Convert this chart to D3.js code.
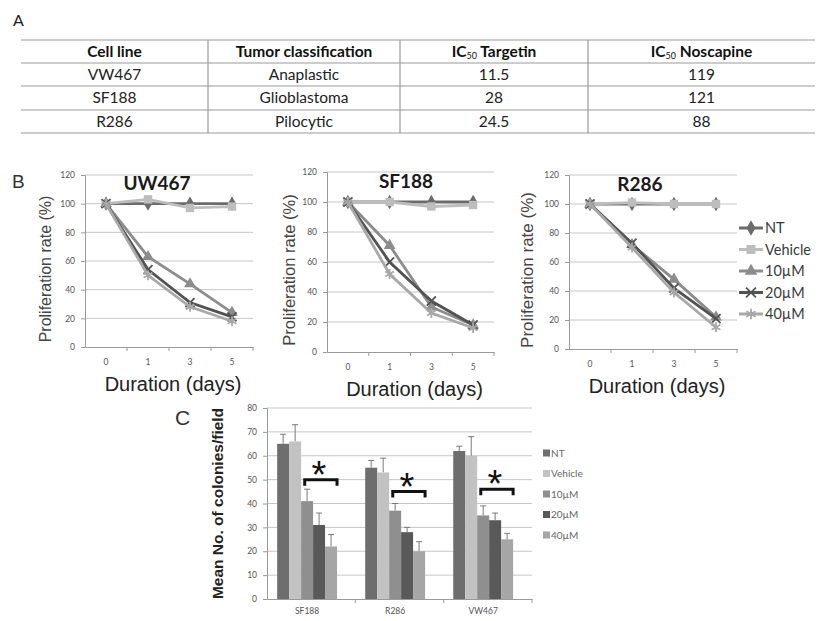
<!DOCTYPE html>
<html>
<head>
<meta charset="utf-8">
<script src="https://cdn.jsdelivr.net/npm/d3@7"></script>
<style>
  body { margin: 0; background: #fff; }
  svg { display: block; }
</style>
</head>
<body>
<div id="chart"></div>
<script>
// ---- data ----
const tableHeaders = ['Cell line', 'Tumor classification', 'IC50 Targetin', 'IC50 Noscapine']
const tableCellLines = ['VW467', 'SF188', 'R286']
const tableClasses = ['Anaplastic', 'Glioblastoma', 'Pilocytic']
const tableTargetin = ['11.5', '28', '24.5']
const tableNoscapine = ['119', '121', '88']

const days = ['0', '1', '3', '5']
const treatments = ['NT', 'Vehicle', '10µM', '20µM', '40µM']
const lineTicks = [0, 20, 40, 60, 80, 100, 120]

// proliferation rate (%), one row per treatment
const uw467Values = [
  [100, 100, 100, 100],
  [100, 103, 97, 98],
  [100, 63, 44, 24],
  [100, 54, 31, 21],
  [100, 50, 28, 18]
]
const sf188Values = [
  [100, 100, 100, 100],
  [100, 100, 97, 98],
  [100, 71, 30, 18],
  [100, 60, 34, 18],
  [100, 52, 26, 16]
]
const r286Values = [
  [100, 100, 100, 100],
  [100, 101, 100, 100],
  [100, 72, 48, 22],
  [100, 73, 42, 21],
  [100, 70, 39, 15]
]

// colonies
const colonyLines = ['SF188', 'R286', 'VW467']
const colonyTicks = [0, 10, 20, 30, 40, 50, 60, 70, 80]
const colonyMeans = [
  [65, 66, 41, 31, 22],
  [55, 53, 37, 28, 20],
  [62, 60, 35, 33, 25]
]
const colonyErrors = [
  [4, 7, 5, 5, 5],
  [3, 6, 3, 2, 4],
  [2, 8, 4, 3, 2.5]
]
const sigLevels = [50, 45, 46]

// ---- style ----
const lineColors = ['#6b6b6b', '#bdbdbd', '#8c8c8c', '#525252', '#a8a8a8']
const barColors = ['#6e6e6e', '#c2c2c2', '#8f8f8f', '#595959', '#a6a6a6']
const markerTypes = [d3.symbolDiamond, d3.symbolSquare, d3.symbolTriangle,
  d3.symbolTimes || d3.symbolCross, d3.symbolAsterisk || d3.symbolStar]
const markerSizes = [60, 70, 60, 55, 70]
const strokeMarkers = [false, false, false, true, true]

const width = 828
const height = 621
const calibri = 'Lato, "Open Sans", sans-serif'
const arial = '"Liberation Sans", Arial, sans-serif'

const svg = d3.select('#chart')
  .append('svg')
  .attr('width', width)
  .attr('height', height)

// ---- panel A : table ----
svg.append('text')
  .attr('x', 13).attr('y', 26)
  .attr('font-family', calibri).attr('font-size', 16)
  .attr('fill', '#222')
  .text('A')

const colEdges = [21, 208, 400, 588, 815]
const rowEdges = [40, 63, 86, 110, 133]
const table = svg.append('g')

rowEdges.forEach(y => {
  table.append('line')
    .attr('x1', colEdges[0]).attr('x2', colEdges[4])
    .attr('y1', y).attr('y2', y)
    .attr('stroke', '#999').attr('stroke-width', 1.2)
})
for (let i = 1; i < 4; i++) {
  table.append('line')
    .attr('x1', colEdges[i]).attr('x2', colEdges[i])
    .attr('y1', rowEdges[0]).attr('y2', rowEdges[4])
    .attr('stroke', '#999').attr('stroke-width', 1.2)
}

tableHeaders.forEach((h, i) => {
  const cx = (colEdges[i] + colEdges[i + 1]) / 2
  const t = table.append('text')
    .attr('x', cx).attr('y', 57)
    .attr('text-anchor', 'middle')
    .attr('font-family', calibri).attr('font-size', 15.5)
    .attr('font-weight', 'bold').attr('fill', '#111')
  if (h.startsWith('IC50')) {
    t.append('tspan').text('IC')
    t.append('tspan').text('50').attr('font-size', 9).attr('font-weight', 'normal').attr('dy', 2)
    t.append('tspan').text(' ' + h.slice(5)).attr('dy', -2)
  } else {
    t.text(h)
  }
})

const rows = tableCellLines.map((c, i) => [c, tableClasses[i], tableTargetin[i], tableNoscapine[i]])
rows.forEach((r, ri) => {
  r.forEach((v, ci) => {
    table.append('text')
      .attr('x', (colEdges[ci] + colEdges[ci + 1]) / 2)
      .attr('y', rowEdges[ri + 1] + 17)
      .attr('text-anchor', 'middle')
      .attr('font-family', calibri).attr('font-size', 15.5)
      .attr('fill', '#222')
      .text(v)
  })
})

// ---- panel B : line charts ----
svg.append('text')
  .attr('x', 12).attr('y', 188)
  .attr('font-family', arial).attr('font-size', 19)
  .attr('fill', '#333')
  .text('B')

function drawLinePanel(cfg) {
  const g = svg.append('g')
  const x = d3.scaleBand().domain(days).range([cfg.left, cfg.right])
  const y = d3.scaleLinear().domain([0, 120]).range([cfg.bottom, cfg.top])

  // gridlines
  g.append('g').selectAll('line')
    .data(lineTicks.slice(1))
    .join('line')
    .attr('x1', cfg.left).attr('x2', cfg.right)
    .attr('y1', d => y(d)).attr('y2', d => y(d))
    .attr('stroke', '#c6c6c6').attr('stroke-width', 1)

  const yAxis = g.append('g')
    .attr('transform', `translate(${cfg.left},0)`)
    .call(d3.axisLeft(y).tickValues(lineTicks).tickSize(4).tickPadding(6))
  const xAxis = g.append('g')
    .attr('transform', `translate(0,${cfg.bottom})`)
    .call(d3.axisBottom(x).tickSize(0).tickPadding(12))
  ;[yAxis, xAxis].forEach(a => {
    a.select('.domain').attr('stroke', '#9a9a9a')
    a.selectAll('.tick line').attr('stroke', '#9a9a9a')
    a.selectAll('text').attr('font-family', calibri).attr('font-size', 8.5).attr('fill', '#555')
  })
  // x ticks between categories
  g.append('g').selectAll('line')
    .data(days.slice(1).concat(['end']))
    .join('line')
    .attr('x1', (d, i) => i < 3 ? x(d) : cfg.right)
    .attr('x2', (d, i) => i < 3 ? x(d) : cfg.right)
    .attr('y1', cfg.bottom).attr('y2', cfg.bottom + 4)
    .attr('stroke', '#9a9a9a')

  const line = d3.line()
    .x((d, i) => x(days[i]) + x.bandwidth() / 2)
    .y(d => y(d))

  cfg.values.forEach((vals, si) => {
    g.append('path')
      .datum(vals)
      .attr('d', line)
      .attr('fill', 'none')
      .attr('stroke', lineColors[si])
      .attr('stroke-width', 2.8)
    g.append('g').selectAll('path')
      .data(vals)
      .join('path')
      .attr('transform', (d, i) => `translate(${x(days[i]) + x.bandwidth() / 2},${y(d)})`)
      .attr('d', d3.symbol().type(markerTypes[si]).size(markerSizes[si]))
      .attr('fill', strokeMarkers[si] ? 'none' : lineColors[si])
      .attr('stroke', lineColors[si])
      .attr('stroke-width', strokeMarkers[si] ? 1.8 : 0)
  })

  g.append('text')
    .attr('x', cfg.titleX).attr('y', cfg.titleY)
    .attr('text-anchor', 'middle')
    .attr('font-family', calibri).attr('font-size', 19)
    .attr('font-weight', 'bold').attr('fill', '#1a1a1a')
    .text(cfg.title)

  g.append('text')
    .attr('transform', `translate(${cfg.yLabelX},${(cfg.top + cfg.bottom) / 2 + 8}) rotate(-90)`)
    .attr('text-anchor', 'middle')
    .attr('font-family', arial).attr('font-size', cfg.yLabelSize)
    .attr('fill', '#444')
    .text('Proliferation rate (%)')

  g.append('text')
    .attr('x', (cfg.left + cfg.right) / 2 + 4).attr('y', cfg.bottom + 44)
    .attr('text-anchor', 'middle')
    .attr('font-family', arial).attr('font-size', 20)
    .attr('fill', '#222')
    .text('Duration (days)')
}

drawLinePanel({ left: 85, right: 253, top: 175, bottom: 347, values: uw467Values,
  title: 'UW467', titleX: 157, titleY: 190, yLabelX: 51, yLabelSize: 16 })
drawLinePanel({ left: 327, right: 494, top: 172, bottom: 352, values: sf188Values,
  title: 'SF188', titleX: 406, titleY: 188, yLabelX: 295, yLabelSize: 16.5 })
drawLinePanel({ left: 569, right: 737, top: 175, bottom: 349, values: r286Values,
  title: 'R286', titleX: 640, titleY: 191, yLabelX: 533, yLabelSize: 17 })

// line legend
const lineLegend = svg.append('g')
treatments.forEach((t, i) => {
  const ly = 228 + i * 21.5
  lineLegend.append('line')
    .attr('x1', 739).attr('x2', 763)
    .attr('y1', ly).attr('y2', ly)
    .attr('stroke', lineColors[i]).attr('stroke-width', 3)
  lineLegend.append('path')
    .attr('transform', `translate(751,${ly})`)
    .attr('d', d3.symbol().type(markerTypes[i]).size(markerSizes[i] + 10))
    .attr('fill', strokeMarkers[i] ? 'none' : lineColors[i])
    .attr('stroke', lineColors[i])
    .attr('stroke-width', strokeMarkers[i] ? 1.8 : 0)
  lineLegend.append('text')
    .attr('x', 765).attr('y', ly + 5)
    .attr('font-family', calibri).attr('font-size', 14.5)
    .attr('fill', '#3a3a3a')
    .text(t)
})

// ---- panel C : bar chart ----
svg.append('text')
  .attr('x', 175).attr('y', 425)
  .attr('font-family', arial).attr('font-size', 21)
  .attr('fill', '#333')
  .text('C')

const cLeft = 267, cRight = 532, cTop = 408, cBottom = 599
const xc = d3.scaleBand().domain(colonyLines).range([cLeft, cRight])
  .paddingInner(0.32).paddingOuter(0.165).align(0.35)
const xs = d3.scaleBand().domain(treatments).range([0, xc.bandwidth()])
const yc = d3.scaleLinear().domain([0, 80]).range([cBottom, cTop])

const cg = svg.append('g')
cg.append('g').selectAll('line')
  .data(colonyTicks.slice(1))
  .join('line')
  .attr('x1', cLeft).attr('x2', cRight)
  .attr('y1', d => yc(d)).attr('y2', d => yc(d))
  .attr('stroke', '#c6c6c6')

const ycAxis = cg.append('g')
  .attr('transform', `translate(${cLeft},0)`)
  .call(d3.axisLeft(yc).tickValues(colonyTicks).tickSize(4).tickPadding(6))
const xcAxis = cg.append('g')
  .attr('transform', `translate(0,${cBottom})`)
  .call(d3.axisBottom(xc).tickSize(0).tickPadding(9))
;[ycAxis, xcAxis].forEach(a => {
  a.select('.domain').attr('stroke', '#9a9a9a')
  a.selectAll('.tick line').attr('stroke', '#9a9a9a')
  a.selectAll('text').attr('font-family', calibri).attr('font-size', 8.5).attr('fill', '#555')
})
// x tick marks at group boundaries
cg.append('g').selectAll('line')
  .data([1, 2, 3])
  .join('line')
  .attr('x1', d => cLeft + (cRight - cLeft) * d / 3)
  .attr('x2', d => cLeft + (cRight - cLeft) * d / 3)
  .attr('y1', cBottom).attr('y2', cBottom + 4)
  .attr('stroke', '#9a9a9a')

colonyLines.forEach((cl, gi) => {
  const grp = cg.append('g').attr('transform', `translate(${xc(cl)},0)`)
  treatments.forEach((t, ti) => {
    const v = colonyMeans[gi][ti]
    const e = colonyErrors[gi][ti]
    const bx = xs(t)
    const mid = bx + xs.bandwidth() / 2
    grp.append('line')
      .attr('x1', mid).attr('x2', mid)
      .attr('y1', yc(v)).attr('y2', yc(v + e))
      .attr('stroke', '#7a7a7a').attr('stroke-width', 1)
    grp.append('line')
      .attr('x1', mid - 3).attr('x2', mid + 3)
      .attr('y1', yc(v + e)).attr('y2', yc(v + e))
      .attr('stroke', '#7a7a7a').attr('stroke-width', 1)
    grp.append('rect')
      .attr('x', bx).attr('y', yc(v))
      .attr('width', xs.bandwidth()).attr('height', yc(0) - yc(v))
      .attr('fill', barColors[ti])
  })
  // significance bracket over 10µM..40µM
  const bx1 = xs('10µM') + xs.bandwidth() * 0.3
  const bx2 = xs('40µM') + xs.bandwidth()
  const by = yc(sigLevels[gi])
  grp.append('path')
    .attr('d', `M${bx1},${by + 6}V${by}H${bx2}V${by + 6}`)
    .attr('fill', 'none').attr('stroke', '#111').attr('stroke-width', 3)
  grp.append('text')
    .attr('x', (bx1 + bx2) / 2 - 2).attr('y', by + 8)
    .attr('text-anchor', 'middle')
    .attr('font-family', arial).attr('font-size', 38)
    .attr('fill', '#111')
    .text('*')
})

cg.append('text')
  .attr('transform', `translate(223,${(cTop + cBottom) / 2}) rotate(-90)`)
  .attr('text-anchor', 'middle')
  .attr('font-family', arial).attr('font-size', 15.5)
  .attr('font-weight', 'bold').attr('fill', '#222')
  .text('Mean No. of colonies/field')

const barLegend = svg.append('g')
treatments.forEach((t, i) => {
  const ly = 453 + i * 20.5
  barLegend.append('rect')
    .attr('x', 543).attr('y', ly - 3.5)
    .attr('width', 7).attr('height', 7)
    .attr('fill', barColors[i])
  barLegend.append('text')
    .attr('x', 551).attr('y', ly + 3.5)
    .attr('font-family', calibri).attr('font-size', 10)
    .attr('fill', '#666')
    .text(t)
})
</script>
</body>
</html>
